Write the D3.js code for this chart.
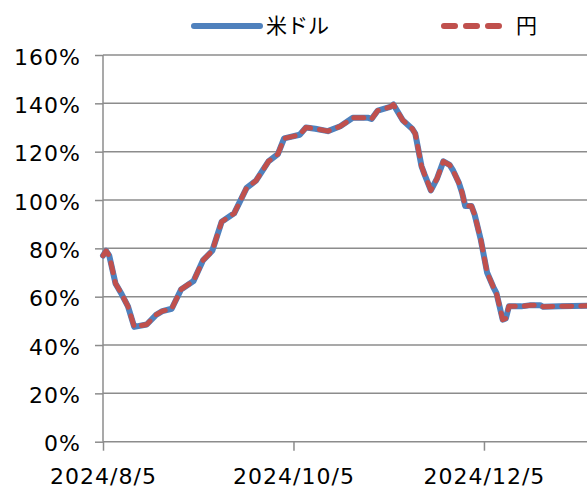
<!DOCTYPE html>
<html>
<head>
<meta charset="utf-8">
<script src="https://cdn.jsdelivr.net/npm/d3@7"></script>
<style>
  body { margin: 0; background: #fff; }
  svg { display: block; font-family: "DejaVu Sans", Verdana, sans-serif; }
</style>
</head>
<body>
<svg id="chart" width="587" height="489"></svg>
<script>
// dates of the line vertices
const dates = [
  "2024-08-05","2024-08-06","2024-08-07","2024-08-09","2024-08-11","2024-08-13",
  "2024-08-15","2024-08-19","2024-08-22","2024-08-24","2024-08-27","2024-08-30",
  "2024-09-03","2024-09-06","2024-09-09","2024-09-12","2024-09-16","2024-09-20",
  "2024-09-23","2024-09-27","2024-09-30","2024-10-02","2024-10-07","2024-10-09",
  "2024-10-12","2024-10-16","2024-10-20","2024-10-24","2024-10-29","2024-10-30",
  "2024-11-01","2024-11-05","2024-11-06","2024-11-09","2024-11-12","2024-11-13",
  "2024-11-15","2024-11-16","2024-11-18","2024-11-20","2024-11-22","2024-11-24",
  "2024-11-25","2024-11-27","2024-11-28","2024-11-29","2024-12-01","2024-12-02",
  "2024-12-04","2024-12-06","2024-12-08","2024-12-09","2024-12-11","2024-12-12",
  "2024-12-13","2024-12-17","2024-12-20","2024-12-23","2024-12-24","2024-12-29",
  "2025-01-07","2025-01-10"
];
// 米ドル (%)
const usd = [
  77, 79, 77, 65.5, 61, 56,
  47.5, 48.5, 52.5, 54, 55, 63,
  66.5, 75, 79, 91, 94.5, 105,
  108, 116, 119, 125.5, 127, 130,
  129.5, 128.5, 130.5, 134, 134, 133.5,
  137, 138.5, 139.5, 133, 129.5, 127.5,
  114, 110.5, 104, 109, 116, 114.5,
  112.5, 107, 103, 97.5, 97.5, 94,
  83.5, 70, 64, 61.5, 50.5, 51,
  56, 56, 56.5, 56.5, 55.8, 56,
  56.2, 56.2
];
// 円 (%)
const jpy = usd.slice();

const yTicks = [0, 20, 40, 60, 80, 100, 120, 140, 160];
const xTicks = ["2024-08-05", "2024-10-05", "2024-12-05"];
const seriesNames = ["米ドル", "円"];

const parse = d3.timeParse("%Y-%m-%d");
const fmtX = d3.timeFormat("%Y/%-m/%-d");

const svg = d3.select("#chart");
const mLeft = 103, mRight = 587, mTop = 55, mBottom = 441.7;

const x = d3.scaleTime()
  .domain([parse("2024-08-05"), d3.timeDay.offset(parse("2025-01-07"), 0.4)])
  .range([mLeft, mRight]);
const y = d3.scaleLinear().domain([0, 160]).range([mBottom, mTop]);

// gridlines
svg.append("g")
  .selectAll("line")
  .data(yTicks.slice(1))
  .join("line")
  .attr("x1", mLeft).attr("x2", 600)
  .attr("y1", d => y(d)).attr("y2", d => y(d))
  .attr("stroke", "#8c8c8c").attr("stroke-width", 1.5);

// y axis
const yAxis = svg.append("g")
  .attr("transform", `translate(${mLeft},0)`)
  .call(d3.axisLeft(y).tickValues(yTicks).tickSize(8).tickPadding(14).tickFormat(d => d + "%"));
yAxis.selectAll("line, path").attr("stroke", "#8c8c8c").attr("stroke-width", 1.5);
yAxis.select(".domain").attr("d", `M0,${mBottom}V${mTop}`);
yAxis.selectAll("text").attr("font-size", 22).attr("fill", "#000")
  .attr("font-family", "DejaVu Sans").attr("letter-spacing", 1)
  .attr("dy", "0.42em");

// x axis
const xAxis = svg.append("g")
  .attr("transform", `translate(0,${mBottom})`)
  .call(d3.axisBottom(x).tickValues(xTicks.map(parse)).tickSize(9).tickPadding(18).tickFormat(fmtX));
xAxis.select(".domain").attr("d", `M${mLeft},0H600`);
xAxis.selectAll("line, path").attr("stroke", "#8c8c8c").attr("stroke-width", 1.5);
xAxis.selectAll("text").attr("font-size", 22).attr("fill", "#000")
  .attr("font-family", "DejaVu Sans").attr("letter-spacing", 1);

// lines
svg.append("clipPath").attr("id", "clip")
  .append("rect").attr("x", 0).attr("y", 0).attr("width", mRight).attr("height", 489);

const line = d3.line()
  .x((d, i) => x(parse(dates[i])))
  .y(d => y(d));

const plot = svg.append("g").attr("clip-path", "url(#clip)");
plot.append("path").datum(usd)
  .attr("d", line).attr("fill", "none")
  .attr("stroke", "#4f81bd").attr("stroke-width", 6)
  .attr("stroke-linejoin", "round").attr("stroke-linecap", "round");
plot.append("path").datum(jpy)
  .attr("d", line).attr("fill", "none")
  .attr("stroke", "#c0504d").attr("stroke-width", 5)
  .attr("stroke-dasharray", "10,9")
  .attr("stroke-linejoin", "round").attr("stroke-linecap", "round");

// legend
const legend = svg.append("g");
legend.append("line")
  .attr("x1", 194).attr("x2", 260).attr("y1", 26).attr("y2", 26)
  .attr("stroke", "#4f81bd").attr("stroke-width", 6).attr("stroke-linecap", "round");
legend.append("text").attr("x", 266).attr("y", 26).attr("dy", "0.35em")
  .attr("font-size", 21).attr("font-family", "Noto Sans CJK JP")
  .text(seriesNames[0]);
legend.append("line")
  .attr("x1", 444).attr("x2", 503).attr("y1", 26).attr("y2", 26)
  .attr("stroke", "#c0504d").attr("stroke-width", 6).attr("stroke-linecap", "round")
  .attr("stroke-dasharray", "11,11");
legend.append("text").attr("x", 516).attr("y", 26).attr("dy", "0.35em")
  .attr("font-size", 21).attr("font-family", "Noto Sans CJK JP")
  .text(seriesNames[1]);
</script>
</body>
</html>
